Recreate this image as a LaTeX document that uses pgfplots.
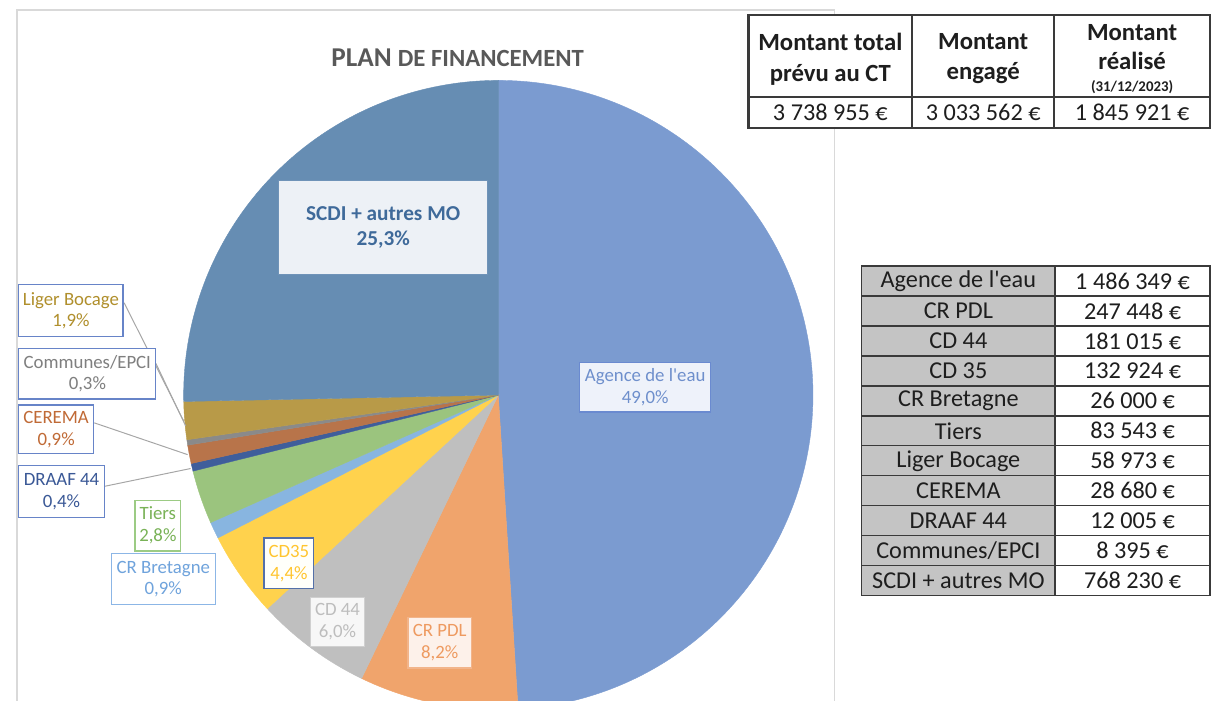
\documentclass[border=0pt]{standalone}
\usepackage{fontspec}
\setmainfont{Carlito}
\usepackage{pgfplots}
\usepackage{pgfplotstable}
\pgfplotsset{compat=1.18}

% slice colours (pie order)
\definecolor{pc0}{HTML}{7B9BD0}
\definecolor{pc1}{HTML}{F0A46C}
\definecolor{pc2}{HTML}{BFBFBF}
\definecolor{pc3}{HTML}{FFD24D}
\definecolor{pc4}{HTML}{88B5E0}
\definecolor{pc5}{HTML}{9BC47E}
\definecolor{pc6}{HTML}{3F5E9B}
\definecolor{pc7}{HTML}{B8744A}
\definecolor{pc8}{HTML}{8A8A8A}
\definecolor{pc9}{HTML}{B89A48}
\definecolor{pc10}{HTML}{668DB3}
\definecolor{titlegray}{HTML}{595959}
\definecolor{framegray}{HTML}{D9D9D9}
\definecolor{leader}{HTML}{A6A6A6}
\definecolor{boxblue}{HTML}{6784C8}
\definecolor{tabline}{HTML}{3A3A3A}
\definecolor{tabgray}{HTML}{C4C4C4}
\definecolor{tabtext}{HTML}{1E1E1E}

\pgfplotstableread[col sep=comma]{
name,amount
Agence de l'eau,1486349
CR PDL,247448
CD 44,181015
CD 35,132924
CR Bretagne,26000
Tiers,83543
DRAAF 44,12005
CEREMA,28680
Communes/EPCI,8395
Liger Bocage,58973
SCDI + autres MO,768230
}\piedata

\tikzset{
  lab/.style={inner sep=0pt, align=center, font={\fontsize{19}{22}\selectfont}},
  tabc/.style={text=tabtext, font={\fontsize{24.5}{29}\selectfont}},
  tabh/.style={text=tabtext, align=center, font={\fontsize{25}{31}\selectfont\bfseries}},
}

\begin{document}
\def\pietotal{0}
\pgfplotstableforeachcolumnelement{amount}\of\piedata\as\val{\xdef\pietotal{\fpeval{\pietotal+\val}}}
\def\piecum{0}
\pgfplotstableforeachcolumnelement{amount}\of\piedata\as\val{%
  \expandafter\xdef\csname pieA\pgfplotstablerow\endcsname{\fpeval{round(90-360*\piecum/\pietotal,4)}}%
  \xdef\piecum{\fpeval{\piecum+\val}}%
  \expandafter\xdef\csname pieB\pgfplotstablerow\endcsname{\fpeval{round(90-360*\piecum/\pietotal,4)}}%
}
\begin{tikzpicture}
\useasboundingbox (0,0) rectangle (1211bp,-706bp);
\begin{axis}[
  at={(0,0)}, anchor=north west,
  x=1bp, y=1bp, y dir=reverse,
  xmin=0, xmax=1211, ymin=0, ymax=706,
  scale only axis, hide axis, clip=true]
% chart frame
\draw[framegray, line width=1.3bp] (axis cs:8,10) rectangle (axis cs:832,716);
% pie slices from the table
\pgfplotsinvokeforeach{0,...,10}{%
  \fill[pc#1, draw=pc#1, line width=0.4bp] (axis cs:493,398) -- ++(\csname pieA#1\endcsname:317bp)
     arc[start angle=\csname pieA#1\endcsname, end angle=\csname pieB#1\endcsname, radius=317bp] -- cycle;
}
% leader lines
\draw[leader, line width=1bp] (axis cs:116,305) -- (axis cs:176,424);
\draw[leader, line width=1bp] (axis cs:148,366) -- (axis cs:178,429);
\draw[leader, line width=1bp] (axis cs:86,426) -- (axis cs:180,458);
\draw[leader, line width=1bp] (axis cs:96,490) -- (axis cs:183,472);
% labels
\node[lab, draw={rgb,255:red,111;green,147;blue,184}, line width=1bp, fill={rgb,255:red,237;green,241;blue,246},
  minimum width=210bp, minimum height=95bp,
  text={rgb,255:red,63;green,106;blue,154}, font={\fontsize{21.5}{25}\selectfont\bfseries}] at (axis cs:377,229.5)
  {SCDI + autres MO\\25,3\%};
\node[lab, draw={rgb,255:red,106;green,138;blue,208}, line width=1.2bp, fill={rgb,255:red,238;green,242;blue,250},
  minimum width=132bp, minimum height=50bp,
  text={rgb,255:red,110;green,143;blue,204}] at (axis cs:641,390)
  {Agence de l\textquotesingle eau\\49,0\%};
\node[lab, draw={rgb,255:red,242;green,180;blue,138}, line width=1.2bp, fill={rgb,255:red,253;green,241;blue,234},
  minimum width=64bp, minimum height=51bp,
  text={rgb,255:red,238;green,154;blue,96}] at (axis cs:434,647.5)
  {CR PDL\\8,2\%};
\node[lab, draw={rgb,255:red,208;green,208;blue,208}, line width=1.2bp, fill={rgb,255:red,247;green,247;blue,247},
  minimum width=54bp, minimum height=49bp,
  text={rgb,255:red,189;green,189;blue,189}] at (axis cs:331,626.5)
  {CD 44\\6,0\%};
\node[lab, draw={rgb,255:red,84;green,112;blue,168}, line width=1.2bp, fill={rgb,255:red,255;green,255;blue,250},
  minimum width=50bp, minimum height=51bp,
  text={rgb,255:red,255;green,197;blue,47}] at (axis cs:282,567.5)
  {CD35\\4,4\%};
\node[lab, draw={rgb,255:red,140;green,182;blue,230}, line width=1.2bp, fill=white,
  minimum width=105bp, minimum height=51bp,
  text={rgb,255:red,111;green,163;blue,220}] at (axis cs:155.5,583.5)
  {CR Bretagne\\0,9\%};
\node[lab, draw={rgb,255:red,156;green,203;blue,132}, line width=1.2bp, fill=white,
  minimum width=46bp, minimum height=51bp,
  text={rgb,255:red,121;green,178;blue,87}] at (axis cs:150,529.5)
  {Tiers\\2,8\%};
\node[lab, draw=boxblue, line width=1.2bp, fill=white,
  minimum width=86bp, minimum height=52bp,
  text={rgb,255:red,58;green,88;blue,150}] at (axis cs:53,495)
  {DRAAF 44\\0,4\%};
\node[lab, draw=boxblue, line width=1.2bp, fill=white,
  minimum width=75bp, minimum height=49bp,
  text={rgb,255:red,192;green,106;blue,54}] at (axis cs:47.5,432.5)
  {CEREMA\\0,9\%};
\node[lab, draw=boxblue, line width=1.2bp, fill=white,
  minimum width=138bp, minimum height=51bp,
  text={rgb,255:red,127;green,127;blue,127}] at (axis cs:79,376.5)
  {Communes/EPCI\\0,3\%};
\node[lab, draw=boxblue, line width=1.2bp, fill=white,
  minimum width=105bp, minimum height=52bp,
  text={rgb,255:red,176;green,143;blue,44}] at (axis cs:62.5,313)
  {Liger Bocage\\1,9\%};
% title
\node[text=titlegray, font=\bfseries] at (axis cs:452,58)
  {\fontsize{27.5}{32}\selectfont PLAN \fontsize{25}{32}\selectfont DE FINANCEMENT};
% top table
\fill[white] (axis cs:745,15) rectangle (axis cs:1210,129);
\draw[tabline, line width=1.6bp] (axis cs:745,98) -- (axis cs:1210,98);
\draw[tabline, line width=1.6bp] (axis cs:910,15) -- (axis cs:910,129);
\draw[tabline, line width=1.6bp] (axis cs:1053,15) -- (axis cs:1053,129);
\draw[tabline, line width=2.2bp] (axis cs:745,15) rectangle (axis cs:1210,129);
\node[tabh] at (axis cs:827.5,59.5) {Montant total\\prévu au CT};
\node[tabh] at (axis cs:981.5,59) {Montant\\engagé};
\node[tabh] at (axis cs:1131.5,33) {Montant};
\node[tabh] at (axis cs:1131.5,61) {réalisé};
\node[text=tabtext, font=\bfseries] at (axis cs:1131.5,88) {\fontsize{15}{17}\selectfont (31/12/2023)};
\node[tabc] at (axis cs:827.5,113.5) {3 738 955 €};
\node[tabc] at (axis cs:981.5,113.5) {3 033 562 €};
\node[tabc] at (axis cs:1131.5,113.5) {1 845 921 €};
% bottom table
\fill[tabgray] (axis cs:859,268) rectangle (axis cs:1054,600);
\fill[white] (axis cs:1054,268) rectangle (axis cs:1210,600);
\pgfplotsinvokeforeach{1,...,10}{%
  \draw[tabline, line width=1.4bp] (axis cs:859,{268+30.18*#1}) -- (axis cs:1210,{268+30.18*#1});
}
\draw[tabline, line width=1.4bp] (axis cs:1054,268) -- (axis cs:1054,600);
\draw[tabline, line width=1.8bp] (axis cs:859,268) rectangle (axis cs:1210,600);
\node[tabc] at (axis cs:956.5,283.1) {Agence de l\textquotesingle eau};
\node[tabc] at (axis cs:956.5,313.3) {CR PDL};
\node[tabc] at (axis cs:956.5,343.5) {CD 44};
\node[tabc] at (axis cs:956.5,373.6) {CD 35};
\node[tabc] at (axis cs:956.5,403.8) {CR Bretagne};
\node[tabc] at (axis cs:956.5,434.0) {Tiers};
\node[tabc] at (axis cs:956.5,464.2) {Liger Bocage};
\node[tabc] at (axis cs:956.5,494.4) {CEREMA};
\node[tabc] at (axis cs:956.5,524.5) {DRAAF 44};
\node[tabc] at (axis cs:956.5,554.7) {Communes/EPCI};
\node[tabc] at (axis cs:956.5,584.9) {SCDI + autres MO};
\node[tabc] at (axis cs:1132,283.1) {1 486 349 €};
\node[tabc] at (axis cs:1132,313.3) {247 448 €};
\node[tabc] at (axis cs:1132,343.5) {181 015 €};
\node[tabc] at (axis cs:1132,373.6) {132 924 €};
\node[tabc] at (axis cs:1132,403.8) {26 000 €};
\node[tabc] at (axis cs:1132,434.0) {83 543 €};
\node[tabc] at (axis cs:1132,464.2) {58 973 €};
\node[tabc] at (axis cs:1132,494.4) {28 680 €};
\node[tabc] at (axis cs:1132,524.5) {12 005 €};
\node[tabc] at (axis cs:1132,554.7) {8 395 €};
\node[tabc] at (axis cs:1132,584.9) {768 230 €};
\end{axis}
\end{tikzpicture}
\end{document}
